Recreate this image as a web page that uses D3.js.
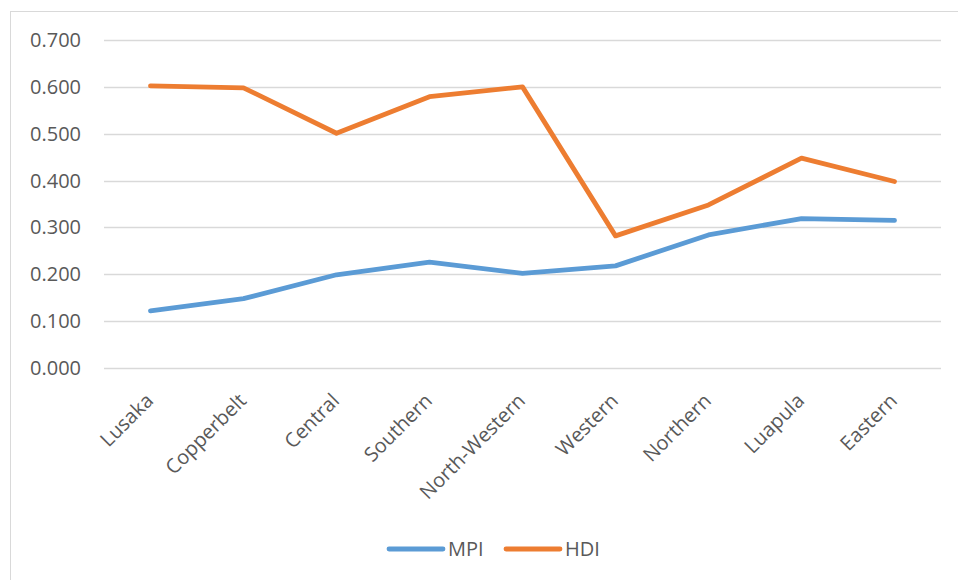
<!DOCTYPE html>
<html>
<head>
<meta charset="utf-8">
<script src="https://cdn.jsdelivr.net/npm/d3@7"></script>
<style>
  body { margin: 0; background: #fff; }
  text { font-family: "Open Sans", sans-serif; fill: #595959; }
</style>
</head>
<body>
<svg id="chart" width="958" height="580"></svg>
<script>
const regions = ['Lusaka', 'Copperbelt', 'Central', 'Southern', 'North-Western', 'Western', 'Northern', 'Luapula', 'Eastern'];
const mpi = [0.122, 0.148, 0.199, 0.226, 0.202, 0.218, 0.284, 0.319, 0.315];
const hdi = [0.602, 0.598, 0.501, 0.579, 0.600, 0.282, 0.348, 0.448, 0.398];
const yTicks = [0, 0.1, 0.2, 0.3, 0.4, 0.5, 0.6, 0.7];

const series = [
    {name: 'MPI', values: mpi, color: '#5B9BD5'},
    {name: 'HDI', values: hdi, color: '#ED7D31'},
];

const width = 958, height = 580;
const margin = {top: 40, right: 17, bottom: 212, left: 104};

const svg = d3.select('#chart');

// outer chart frame (runs off the right/bottom edge)
svg.append('rect')
    .attr('x', 10.5).attr('y', 11.5)
    .attr('width', 1000).attr('height', 700)
    .attr('fill', 'none').attr('stroke', '#d9d9d9');

const x = d3.scaleBand()
    .domain(regions)
    .range([margin.left, width - margin.right]);

const y = d3.scaleLinear()
    .domain([0, 0.7])
    .range([height - margin.bottom, margin.top]);

// gridlines
svg.append('g')
    .selectAll('line')
    .data(yTicks)
    .join('line')
    .attr('x1', margin.left).attr('x2', width - margin.right)
    .attr('y1', d => Math.round(y(d)) + 0.5).attr('y2', d => Math.round(y(d)) + 0.5)
    .attr('stroke', '#d9d9d9').attr('stroke-width', 1.3);

// y labels
svg.append('g')
    .selectAll('text')
    .data(yTicks)
    .join('text')
    .attr('x', 81)
    .attr('y', d => y(d) + 7)
    .attr('text-anchor', 'end')
    .style('font-size', '20px')
    .text(d => d3.format('.3f')(d));

// x labels, rotated
svg.append('g')
    .selectAll('text')
    .data(regions)
    .join('text')
    .attr('text-anchor', 'end')
    .style('font-size', '20px')
    .attr('transform', d => `translate(${x(d) + x.bandwidth() / 2 + 4},${y(0) + 34}) rotate(-45)`)
    .text(d => d);

// lines
const line = d3.line()
    .x((d, i) => x(regions[i]) + x.bandwidth() / 2)
    .y(d => y(d));

svg.append('g')
    .selectAll('path')
    .data(series)
    .join('path')
    .attr('d', s => line(s.values))
    .attr('fill', 'none')
    .attr('stroke', s => s.color)
    .attr('stroke-width', 4.8)
    .attr('stroke-linejoin', 'round')
    .attr('stroke-linecap', 'round');

// legend
const legend = svg.append('g');
const legendX = [389, 506];
series.forEach((s, i) => {
    legend.append('line')
        .attr('x1', legendX[i]).attr('x2', legendX[i] + 54)
        .attr('y1', 549).attr('y2', 549)
        .attr('stroke', s.color).attr('stroke-width', 4.8)
        .attr('stroke-linecap', 'round');
    legend.append('text')
        .attr('x', legendX[i] + 59).attr('y', 556)
        .style('font-size', '20px')
        .text(s.name);
});
</script>
</body>
</html>
